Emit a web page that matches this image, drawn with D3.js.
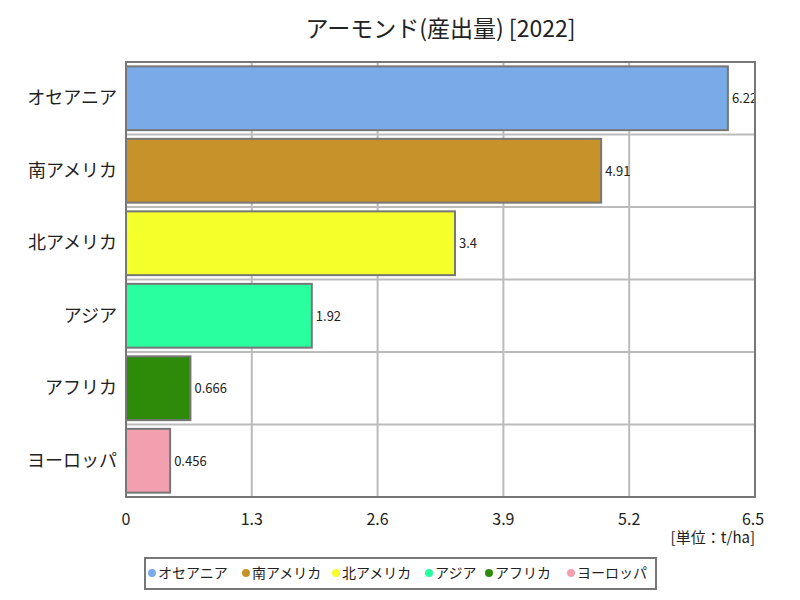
<!DOCTYPE html>
<html><head><meta charset="utf-8">
<script src="https://cdn.jsdelivr.net/npm/d3@7"></script>
<style>body{margin:0;background:#fff;} text{font-family:"Noto Sans CJK JP","Noto Sans",sans-serif;}</style>
</head><body><svg id="c" width="800" height="600"></svg>
<script>
const categories = ["オセアニア","南アメリカ","北アメリカ","アジア","アフリカ","ヨーロッパ"];
const values = [6.22, 4.91, 3.4, 1.92, 0.666, 0.456];
const valueLabels = ["6.22","4.91","3.4","1.92","0.666","0.456"];
const colors = ["#7aaae8","#c8922a","#f5ff2a","#2affa0","#2e8b0a","#f29fb0"];
const tickValues = [0, 1.3, 2.6, 3.9, 5.2, 6.5];
const tickLabels = ["0","1.3","2.6","3.9","5.2","6.5"];
const title = "アーモンド(産出量) [2022]";
const unit = "[単位：t/ha]";

const svg = d3.select("#c");
const L = 126, R = 755, T = 62, B = 497;
const x = d3.scaleLinear().domain([0, 6.5]).range([L, R]);
const y = d3.scaleBand().domain(categories).range([T, B]).paddingInner(0.12).paddingOuter(0.06);
const yb = d3.scaleBand().domain(categories).range([T, B]);

svg.append("text").attr("x", (L+R)/2).attr("y", 37).attr("text-anchor","middle")
  .attr("font-size", 23).attr("fill","#222").text(title);

// grid
svg.append("g").selectAll("line").data(tickValues.slice(1,-1)).join("line")
  .attr("x1", d=>x(d)).attr("x2", d=>x(d)).attr("y1", T).attr("y2", B)
  .attr("stroke","#bbb").attr("stroke-width",2);
svg.append("g").selectAll("line").data(categories.slice(1)).join("line")
  .attr("x1", L).attr("x2", R).attr("y1", d=>yb(d)).attr("y2", d=>yb(d))
  .attr("stroke","#bbb").attr("stroke-width",2);

svg.append("clipPath").attr("id","clip").append("rect").attr("x",L).attr("y",T).attr("width",R-L).attr("height",B-T);

// bars
svg.append("g").selectAll("rect").data(values).join("rect")
  .attr("x", x(0)).attr("y", (d,i)=>y(categories[i]))
  .attr("width", d=>x(d)-x(0)).attr("height", y.bandwidth())
  .attr("fill", (d,i)=>colors[i]).attr("stroke","#777").attr("stroke-width",2);

// value labels
svg.append("g").attr("clip-path","url(#clip)").selectAll("text").data(values).join("text")
  .attr("x", d=>x(d)+4).attr("y", (d,i)=>y(categories[i])+y.bandwidth()/2+5)
  .attr("font-size", 13).attr("fill","#222").text((d,i)=>valueLabels[i]);

// frame
svg.append("rect").attr("x",L).attr("y",T).attr("width",R-L).attr("height",B-T)
  .attr("fill","none").attr("stroke","#777").attr("stroke-width",2);

// y labels
svg.append("g").selectAll("text").data(categories).join("text")
  .attr("x", 117).attr("y", d=>yb(d)+yb.bandwidth()/2+6).attr("text-anchor","end")
  .attr("font-size", 18).attr("fill","#222").text(d=>d);

// x tick labels
svg.append("g").selectAll("text").data(tickValues).join("text")
  .attr("x", (d,i)=> x(d) + (i===0?0:(i===tickValues.length-1?-2:0)))
  .attr("y", 525).attr("text-anchor","middle")
  .attr("font-size", 16).attr("fill","#222").text((d,i)=>tickLabels[i]);

svg.append("text").attr("x", R).attr("y", 543).attr("text-anchor","end")
  .attr("font-size", 15).attr("fill","#222").text(unit);

// legend
svg.append("rect").attr("x",145).attr("y",558).attr("width",511).attr("height",31)
  .attr("fill","#fff").attr("stroke","#777").attr("stroke-width",2);
const lx = [152, 246, 336, 429, 489, 571];
const lg = svg.append("g").selectAll("g").data(categories).join("g")
  .attr("transform",(d,i)=>`translate(${lx[i]},573)`);
lg.append("circle").attr("r",4).attr("fill",(d,i)=>colors[i]);
lg.append("text").attr("x",6).attr("y",5).attr("font-size",14).attr("fill","#222").text(d=>d);
</script></body></html>
